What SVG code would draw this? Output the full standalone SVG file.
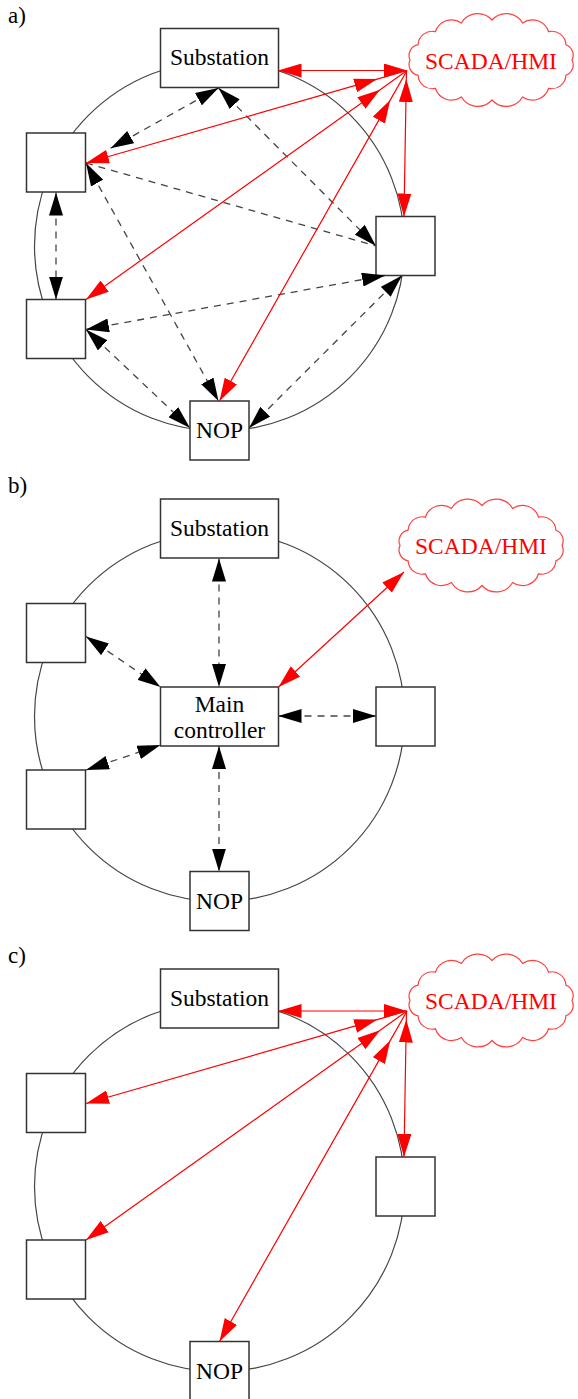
<svg xmlns="http://www.w3.org/2000/svg" width="578" height="1399" viewBox="0 0 578 1399">
<style>
text{font-family:"Liberation Serif","Times New Roman",serif;font-size:23.5px;fill:#000}
.lbl{font-size:23px}
.ring{fill:none;stroke:#444;stroke-width:1.2}
.box{fill:#fff;stroke:#333;stroke-width:1.5}
.cloud{fill:#fff;stroke:#ff4040;stroke-width:1.2}
.ctext{fill:#f00;text-anchor:middle}
.ntext{text-anchor:middle}
.d{fill:none;stroke:#444;stroke-width:1.3;stroke-dasharray:7 6;marker-start:url(#ab);marker-end:url(#ab)}
.dn{fill:none;stroke:#444;stroke-width:1.3;stroke-dasharray:7 6}
.r{fill:none;stroke:#f00;stroke-width:1.2;marker-start:url(#ar);marker-end:url(#ar)}
.rm{fill:none;stroke:#f00;stroke-width:1.2;marker-start:url(#ar);marker-mid:url(#ar)}
</style>
<defs>
<marker id="ab" viewBox="0 0 23 14" refX="23" refY="7" markerWidth="23" markerHeight="14" markerUnits="userSpaceOnUse" orient="auto-start-reverse"><path d="M0,0 L23,7 L0,14 z" fill="#000"/></marker>
<marker id="ar" viewBox="0 0 23 14" refX="23" refY="7" markerWidth="23" markerHeight="14" markerUnits="userSpaceOnUse" orient="auto-start-reverse"><path d="M0,0 L23,7 L0,14 z" fill="#f00"/></marker>
<path id="cloudshape" d="M572,60 A11 11 0 0 1 565.9,75.3 A14 14 0 0 1 548.6,88.3 A17 17 0 0 1 522.6,97 A19 19 0 0 1 492,100 A19 19 0 0 1 461.4,97 A17 17 0 0 1 435.4,88.3 A14 14 0 0 1 418.1,75.3 A11 11 0 0 1 410,60 A11 11 0 0 1 418.1,44.7 A14 14 0 0 1 435.4,31.7 A17 17 0 0 1 461.4,23 A19 19 0 0 1 492,20 A19 19 0 0 1 522.6,23 A17 17 0 0 1 548.6,31.7 A14 14 0 0 1 565.9,44.7 A11 11 0 0 1 572,60 Z"/>
</defs>

<!-- Panel a -->
<g id="panel-a">
<text class="lbl" x="8" y="22.5">a)</text>
<circle class="ring" cx="219.5" cy="246" r="185"/>
<g id="a-substation"><rect class="box" x="160.5" y="28.5" width="118" height="59"/><text class="ntext" x="219.5" y="65">Substation</text></g>
<g id="a-node-l1"><rect class="box" x="26.5" y="133" width="59" height="59"/></g>
<g id="a-node-l2"><rect class="box" x="26.5" y="299.5" width="59" height="59"/></g>
<g id="a-node-r"><rect class="box" x="376" y="216.5" width="59" height="59"/></g>
<g id="a-nop"><rect class="box" x="190" y="401" width="59" height="59"/><text class="ntext" x="219.5" y="438">NOP</text></g>
<g id="a-scada"><use href="#cloudshape" class="cloud"/><text class="ctext" x="491" y="68.5">SCADA/HMI</text></g>
<g id="a-connectors">
<path class="d" d="M218.5,88 L110.6,148.3"/>
<path class="d" d="M218.5,88 L376,246"/>
<path class="dn" d="M86,163 L376,246"/>
<path class="d" d="M56,192.5 L56,299.5"/>
<path class="d" d="M86,163 L218.5,401"/>
<path class="d" d="M86,329.5 L385,275.5"/>
<path class="d" d="M86,329.5 L190,428"/>
<path class="d" d="M402,275.5 L249,428"/>
<path class="r" d="M278.5,70.5 L407,70.5"/>
<path class="rm" d="M86,163 L377.2,79.1 L407,70.5"/>
<path class="rm" d="M86,299.5 L380.1,89.7 L407,70.5"/>
<path class="rm" d="M219.5,401 L390.2,100.1 L407,70.5"/>
<path class="rm" d="M404,216.5 L406.3,79 L406.5,71"/>
</g>
</g>

<!-- Panel b -->
<g id="panel-b" transform="translate(0,470.5)">
<text class="lbl" x="8" y="22.5">b)</text>
<circle class="ring" cx="219.5" cy="246" r="185"/>
<g id="b-substation"><rect class="box" x="160.5" y="28.5" width="118" height="59"/><text class="ntext" x="219.5" y="65">Substation</text></g>
<g id="b-node-l1"><rect class="box" x="26.5" y="133" width="59" height="59"/></g>
<g id="b-node-l2"><rect class="box" x="26.5" y="299.5" width="59" height="59"/></g>
<g id="b-node-r"><rect class="box" x="376" y="216.5" width="59" height="59"/></g>
<g id="b-nop"><rect class="box" x="190" y="401" width="59" height="59"/><text class="ntext" x="219.5" y="438">NOP</text></g>
<g id="b-main"><rect class="box" x="160.5" y="216.5" width="118" height="59"/><text class="ntext" x="219.5" y="241">Main</text><text class="ntext" x="219.5" y="267">controller</text></g>
<g id="b-scada" transform="translate(-10,15)"><use href="#cloudshape" class="cloud"/><text class="ctext" x="491" y="68.5">SCADA/HMI</text></g>
<g id="b-connectors">
<path class="d" d="M219,88 L219,216.5"/>
<path class="d" d="M86,166 L160.5,216.5"/>
<path class="d" d="M86,299.5 L160.5,274.5"/>
<path class="d" d="M278.5,245.5 L376,245.5"/>
<path class="d" d="M219,275.5 L219,401"/>
<path class="r" d="M278.5,216.5 L404,101.5"/>
</g>
</g>

<!-- Panel c -->
<g id="panel-c" transform="translate(0,940.5)">
<text class="lbl" x="8" y="22.5">c)</text>
<circle class="ring" cx="219.5" cy="246" r="185"/>
<g id="c-substation"><rect class="box" x="160.5" y="28.5" width="118" height="59"/><text class="ntext" x="219.5" y="65">Substation</text></g>
<g id="c-node-l1"><rect class="box" x="26.5" y="133" width="59" height="59"/></g>
<g id="c-node-l2"><rect class="box" x="26.5" y="299.5" width="59" height="59"/></g>
<g id="c-node-r"><rect class="box" x="376" y="216.5" width="59" height="59"/></g>
<g id="c-nop"><rect class="box" x="190" y="401" width="59" height="59"/><text class="ntext" x="219.5" y="438">NOP</text></g>
<g id="c-scada"><use href="#cloudshape" class="cloud"/><text class="ctext" x="491" y="68.5">SCADA/HMI</text></g>
<g id="c-connectors">
<path class="r" d="M278.5,70.5 L407,70.5"/>
<path class="rm" d="M86,163 L377.2,79.1 L407,70.5"/>
<path class="rm" d="M86,299.5 L380.1,89.7 L407,70.5"/>
<path class="rm" d="M219.5,401 L390.2,100.1 L407,70.5"/>
<path class="rm" d="M404,216.5 L406.3,79 L406.5,71"/>
</g>
</g>
</svg>
